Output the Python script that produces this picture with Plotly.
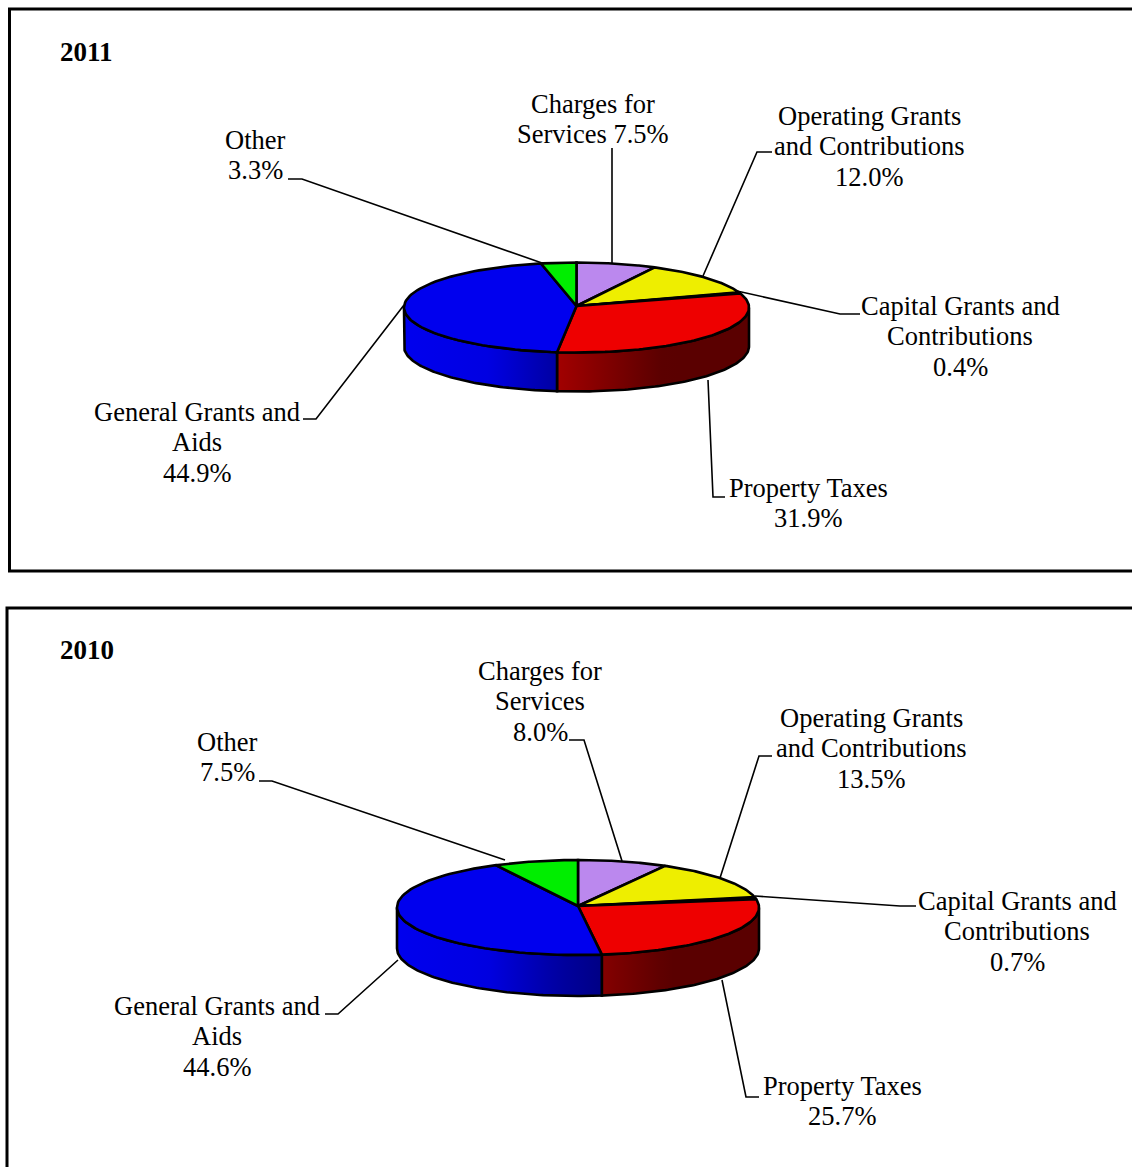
import numpy as np
import plotly.graph_objects as go

# Revenue shares by source, clockwise from twelve o'clock
categories = ["Charges for Services", "Operating Grants and Contributions",
              "Capital Grants and Contributions", "Property Taxes",
              "General Grants and Aids", "Other"]
values_2011 = [7.5, 12.0, 0.4, 31.9, 44.9, 3.3]
values_2010 = [8.0, 13.5, 0.7, 25.7, 44.6, 7.5]

# Label text per slice, one entry per line; {v} takes the slice's value
lines_2011 = [["Charges for", "Services {v}%"],
              ["Operating Grants", "and Contributions", "{v}%"],
              ["Capital Grants and", "Contributions", "{v}%"],
              ["Property Taxes", "{v}%"],
              ["General Grants and", "Aids", "{v}%"],
              ["Other", "{v}%"]]
lines_2010 = [["Charges for", "Services", "{v}%"],
              ["Operating Grants", "and Contributions", "{v}%"],
              ["Capital Grants and", "Contributions", "{v}%"],
              ["Property Taxes", "{v}%"],
              ["General Grants and", "Aids", "{v}%"],
              ["Other", "{v}%"]]

WIDTH, HEIGHT = 1132, 1167
FONT = "Liberation Serif"
TEXT_SIZE = 26.5
LINE_STEP = 30.3
APEX_LIFT = 1.5
EDGE = 2.6

top_rgb = [(0xBB, 0x88, 0xEE), (0xEE, 0xEE, 0x00), (0x80, 0x00, 0x00),
           (0xEE, 0x00, 0x00), (0x00, 0x00, 0xEE), (0x00, 0xEE, 0x00)]

# Pie geometry, label anchors and leader polylines for each panel
panels = [
    dict(year="2011", values=values_2011, lines=lines_2011,
         cx=576.5, cy=307.5, rx=172.5, ry=45, depth=39,
         frame=(9.5, 9, 1200, 571), title=(57.5, 52),
         anchors=[(593, 104), (869, 116), (960, 306), (808, 488), (197, 412), (255, 140)],
         leaders=[[(612, 148), (612, 264)],
                  [(772, 152), (757, 152), (703, 276)],
                  [(860, 314), (840, 314), (737, 291)],
                  [(725, 497), (713, 497), (708, 380)],
                  [(303, 419), (316, 419), (404, 305)],
                  [(288, 179), (302, 179), (542, 263)]]),
    dict(year="2010", values=values_2010, lines=lines_2010,
         cx=578, cy=907.5, rx=181, ry=47.5, depth=41,
         frame=(7, 608, 1200, 1300), title=(57.5, 650),
         anchors=[(540, 671), (871, 718), (1017, 901), (842, 1086), (217, 1006), (227, 742)],
         leaders=[[(569, 740), (584, 740), (622, 861)],
                  [(772, 756), (759, 756), (720, 878)],
                  [(916, 906), (900, 906), (755, 896)],
                  [(759, 1097), (746, 1097), (722, 980)],
                  [(325, 1014), (338, 1014), (398, 960)],
                  [(259, 781), (272, 781), (505, 860)]]),
]

# Brightness of the rim across the pie's width, from left to right edge
SHADE_U = [-1.0, -0.5, -0.11, 0.13, 0.5, 1.0]
SHADE_K = [1.0, 0.95, 0.68, 0.56, 0.38, 0.38]


def ellipse(p, theta):
    """Project clockwise angles (0 = top) onto the tilted pie's top face."""
    return p["cx"] + p["rx"] * np.sin(theta), p["cy"] - p["ry"] * np.cos(theta)


def rim_scale(p, rgb, x_left, x_right):
    stops = []
    for f in np.linspace(0, 1, 12):
        u = (x_left + f * (x_right - x_left) - p["cx"]) / p["rx"]
        k = np.interp(u, SHADE_U, SHADE_K)
        r, g, b = (int(c * k) for c in rgb)
        stops.append([float(f), f"rgb({r},{g},{b})"])
    return stops


fig = go.Figure()
shapes = []
annotations = []

for p in panels:
    x0, y0, x1, y1 = p["frame"]
    shapes.append(dict(type="rect", x0=x0, y0=y0, x1=x1, y1=y1, layer="below",
                       line=dict(color="black", width=3), fillcolor="white"))
    annotations.append(dict(x=p["title"][0], y=p["title"][1], text=f"<b>{p['year']}</b>",
                            xanchor="left", yanchor="middle", showarrow=False,
                            font=dict(family=FONT, size=27, color="black")))

    for leader in p["leaders"]:
        path = "M " + " L ".join(f"{x} {y}" for x, y in leader)
        shapes.append(dict(type="path", path=path, layer="below",
                           line=dict(color="black", width=1.6)))

    for v, anchor, text_lines in zip(p["values"], p["anchors"], p["lines"]):
        for i, line in enumerate(text_lines):
            annotations.append(dict(x=anchor[0], y=anchor[1] + i * LINE_STEP,
                                    text=line.format(v=f"{v:.1f}"),
                                    xanchor="center", yanchor="middle", showarrow=False,
                                    font=dict(family=FONT, size=TEXT_SIZE, color="black")))

    total = sum(p["values"])
    edges = np.concatenate([[0], np.cumsum(p["values"])]) / total * 2 * np.pi

    # Rim first: only the part of each slice on the near side of the pie shows
    for i, rgb in enumerate(top_rgb):
        a = max(edges[i], np.pi / 2)
        b = min(edges[i + 1], 3 * np.pi / 2)
        if b <= a:
            continue
        t = np.linspace(a, b, 90)
        ex, ey = ellipse(p, t)
        xs = np.concatenate([ex, ex[::-1], ex[:1]])
        ys = np.concatenate([ey, ey[::-1] + p["depth"], ey[:1]])
        fig.add_trace(go.Scatter(
            x=xs, y=ys, mode="lines", fill="toself",
            line=dict(color="black", width=EDGE),
            fillgradient=dict(type="horizontal",
                              colorscale=rim_scale(p, rgb, float(xs.min()), float(xs.max()))),
            hoverinfo="skip", showlegend=False))

    # Top face wedges, meeting at an apex set slightly above the ellipse centre
    apex_y = p["cy"] - APEX_LIFT
    for i, (name, rgb) in enumerate(zip(categories, top_rgb)):
        t = np.linspace(edges[i], edges[i + 1], 80)
        ex, ey = ellipse(p, t)
        xs = np.concatenate([[p["cx"]], ex, [p["cx"]]])
        ys = np.concatenate([[apex_y], ey, [apex_y]])
        fig.add_trace(go.Scatter(
            x=xs, y=ys, mode="lines", fill="toself", name=name,
            fillcolor=f"rgb({rgb[0]},{rgb[1]},{rgb[2]})",
            line=dict(color="black", width=EDGE),
            hoverinfo="skip", showlegend=False))

fig.update_layout(
    width=WIDTH, height=HEIGHT, margin=dict(l=0, r=0, t=0, b=0),
    paper_bgcolor="white", plot_bgcolor="white", showlegend=False,
    xaxis=dict(range=[0, WIDTH], visible=False, fixedrange=True),
    yaxis=dict(range=[HEIGHT, 0], visible=False, fixedrange=True),
    shapes=shapes, annotations=annotations,
)
fig.write_html("out.html")
